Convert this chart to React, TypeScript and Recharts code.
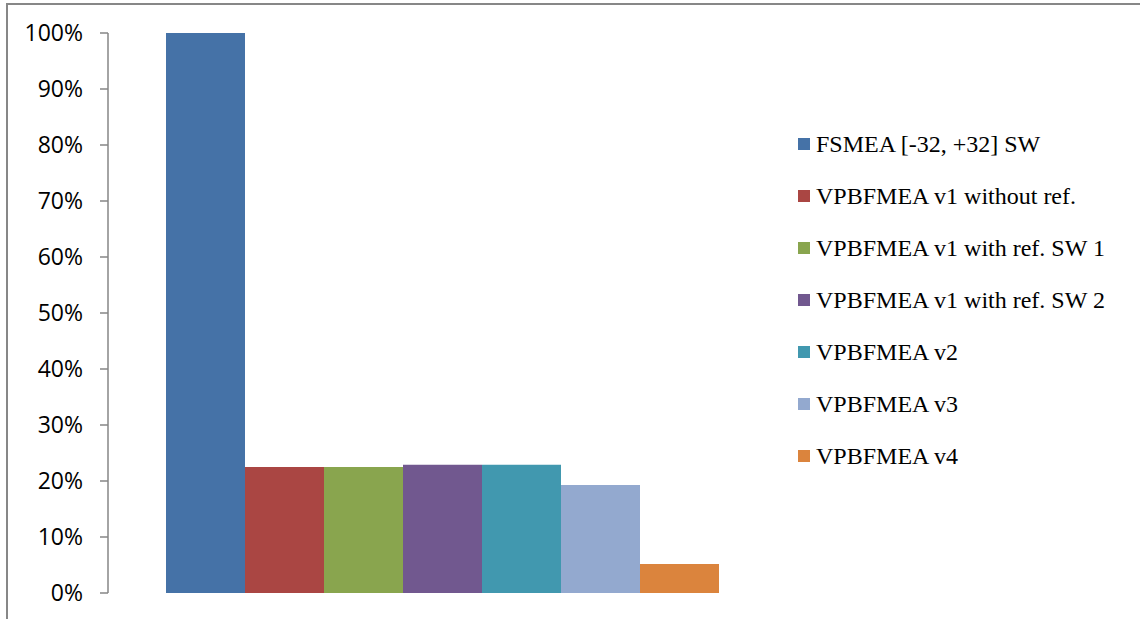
import React from "react";
import { BarChart, Bar, XAxis, YAxis, Legend } from "recharts";

const seriesNames = [
  "FSMEA [-32, +32] SW",
  "VPBFMEA v1 without ref.",
  "VPBFMEA v1 with ref. SW 1",
  "VPBFMEA v1 with ref. SW 2",
  "VPBFMEA v2",
  "VPBFMEA v3",
  "VPBFMEA v4",
];
const seriesValues = [1.0, 0.225, 0.225, 0.229, 0.229, 0.193, 0.052];
const seriesColors = ["#4572A7", "#AA4643", "#89A54E", "#71588F", "#4198AF", "#93A9CF", "#DB843D"];
const yTicks = [0, 0.1, 0.2, 0.3, 0.4, 0.5, 0.6, 0.7, 0.8, 0.9, 1.0];

const row: any = { name: "" };
seriesNames.forEach((n, i) => {
  row["s" + i] = seriesValues[i];
});
const data = [row];

const LegendContent = () => (
  <div style={{ fontFamily: "'Liberation Serif', serif", fontSize: 24, color: "#000" }}>
    {seriesNames.map((n, i) => (
      <div key={n} style={{ height: 52, display: "flex", alignItems: "center" }}>
        <span style={{ width: 12, height: 12, background: seriesColors[i], marginRight: 6, display: "inline-block" }} />
        <span>{n}</span>
      </div>
    ))}
  </div>
);

const App = () => {
  return (
    <div style={{ position: "fixed", left: 0, top: 0, width: 1140, height: 619, background: "#fff" }}>
      <div
        style={{
          position: "absolute",
          left: 6,
          top: 3,
          width: 1140,
          height: 619,
          borderTop: "2px solid #878787",
          borderLeft: "2px solid #878787",
        }}
      />
      <BarChart
        width={1140}
        height={619}
        data={data}
        margin={{ top: 33, right: 25, left: 0, bottom: 26 }}
        barCategoryGap={58}
        barGap={0}
      >
        <XAxis dataKey="name" hide />
        <YAxis
          width={108}
          domain={[0, 1]}
          ticks={yTicks}
          tickFormatter={(v: number) => `${Math.round(v * 100)}%`}
          axisLine={{ stroke: "#868686", strokeWidth: 1.5 }}
          tickLine={{ stroke: "#868686", strokeWidth: 1.5 }}
          tickSize={8}
          tickMargin={17}
          tick={{ fill: "#000", fontSize: 23, fontFamily: "'Open Sans', sans-serif" }}
        />
        <Legend
          layout="vertical"
          align="right"
          verticalAlign="top"
          content={<LegendContent />}
          wrapperStyle={{ left: 798, top: 118, width: 340 }}
        />
        {seriesNames.map((n, i) => (
          <Bar key={n} dataKey={"s" + i} name={n} fill={seriesColors[i]} isAnimationActive={false} />
        ))}
      </BarChart>
    </div>
  );
};

export default App;
